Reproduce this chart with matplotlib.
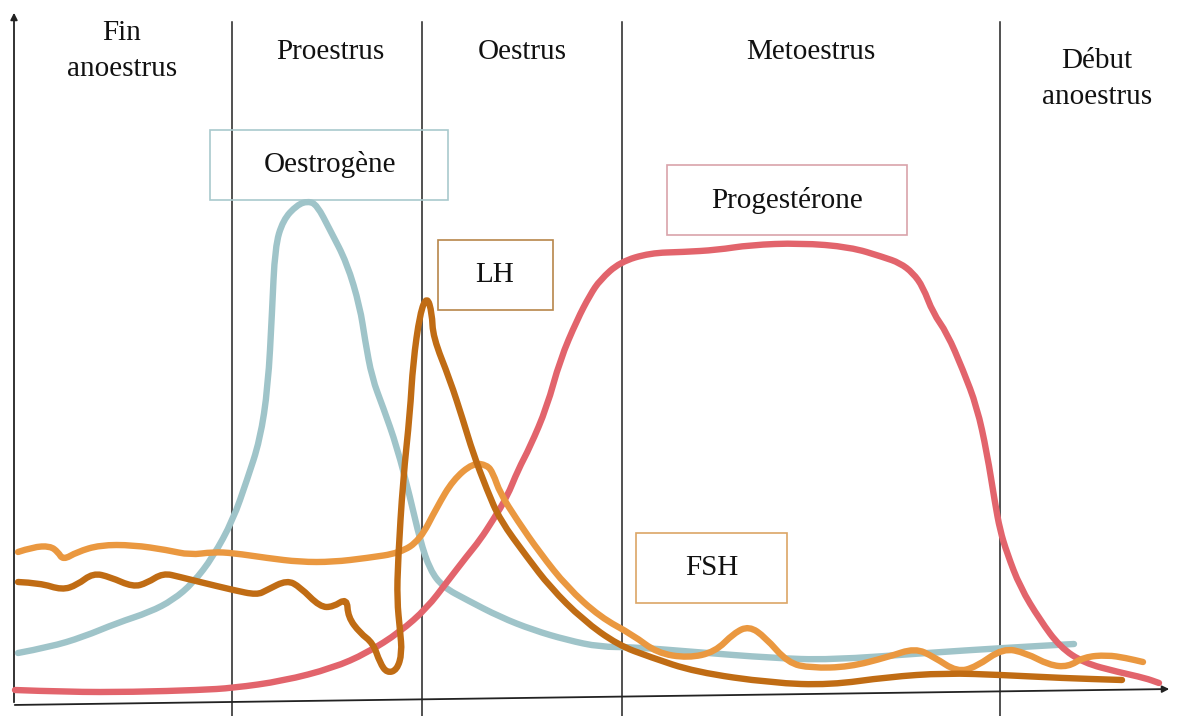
import matplotlib
matplotlib.use("Agg")
import matplotlib.pyplot as plt
from matplotlib.path import Path
from matplotlib.patches import PathPatch

# phases of the cycle (label, x centre, y centre)
phase_labels = ["Fin\nanoestrus", "Proestrus", "Oestrus", "Metoestrus", "Début\nanoestrus"]
phase_x = [122, 330, 522, 811, 1097]
phase_y = [51, 52, 52, 52, 79]
dividers = [232, 422, 622, 1000]

# hormone curves (pixel units, y down)
oestro_x = [18, 50, 83, 117, 150, 173, 193, 213, 233, 247, 260, 268, 272, 275, 283, 297, 308,
            317, 330, 347, 360, 365, 372, 383, 397, 410, 420, 430, 443, 467, 500, 533, 567,
            600, 633, 695, 772, 830, 926, 1003, 1074]
oestro_y = [653, 647, 637, 623, 612, 600, 583, 557, 520, 480, 440, 387, 313, 247, 220, 205, 201,
            205, 230, 263, 307, 340, 378, 407, 447, 497, 540, 570, 587, 600, 617, 630, 640,
            647, 647, 652, 658, 660, 653, 648, 644]

lh_x = [18, 40, 62, 77, 93, 110, 133, 147, 163, 180, 200, 233, 257, 267, 287, 300, 320, 333,
        347, 348, 360, 373, 380, 387, 397, 402, 400, 397, 398, 403, 410, 413, 420, 427, 432,
        433, 450, 463, 473, 487, 500, 527, 550, 583, 618, 650, 695, 772, 830, 888, 945, 1003,
        1061, 1122]
lh_y = [582, 583, 590, 585, 573, 577, 587, 583, 573, 577, 582, 590, 595, 590, 580, 587, 607, 607,
        598, 617, 633, 643, 663, 673, 670, 653, 630, 600, 560, 480, 413, 363, 313, 296, 313,
        337, 380, 420, 453, 490, 520, 557, 587, 620, 645, 657, 672, 683, 685, 677, 673, 675,
        678, 680]

fsh_x = [18, 33, 50, 58, 63, 77, 100, 133, 167, 190, 213, 233, 267, 300, 333, 367, 400, 420,
         437, 453, 473, 487, 493, 500, 517, 540, 567, 600, 633, 657, 688, 715, 734, 749, 765,
         788, 811, 849, 888, 915, 934, 957, 976, 1003, 1026, 1049, 1068, 1084, 1107, 1126, 1143]
fsh_y = [552, 547, 546, 552, 560, 552, 545, 545, 550, 555, 552, 553, 558, 562, 562, 558, 553, 540,
         507, 480, 463, 465, 473, 493, 520, 553, 587, 617, 635, 653, 658, 652, 633, 626, 637,
         663, 668, 667, 657, 648, 657, 672, 667, 648, 653, 665, 667, 657, 655, 658, 662]

prog_x = [15, 67, 133, 200, 233, 283, 333, 367, 400, 427, 447, 467, 480, 493, 507, 518, 530, 547,
          560, 577, 590, 600, 620, 650, 683, 717, 750, 800, 850, 883, 900, 913, 923, 933, 947,
          963, 977, 987, 995, 1000, 1007, 1020, 1040, 1060, 1084, 1118, 1145, 1159]
prog_y = [690, 692, 692, 690, 688, 681, 668, 653, 632, 608, 582, 556, 540, 520, 497, 470, 447, 407,
          360, 320, 295, 280, 262, 253, 252, 250, 245, 243, 247, 257, 263, 273, 287, 313, 333,
          370, 407, 453, 503, 530, 553, 587, 620, 647, 663, 672, 678, 683]

# labels in boxes: text, centre, box (x0, y0, x1, y1)
box_text = ["Oestrogène", "Progestérone", "LH", "FSH"]
box_xy = [(330, 165), (787, 200), (495, 275), (712, 568)]
box_rect = [(210, 130, 448, 200), (667, 165, 907, 235), (438, 240, 553, 310), (636, 533, 787, 603)]
box_edge = ["#a9c9cd", "#d9a3aa", "#b8864a", "#dca566"]

c_oestro = "#9fc4c9"
c_lh = "#c06c14"
c_fsh = "#ea9840"
c_prog = "#e2646c"


def smooth_curve(ax, xs, ys, color):
  # quadratic bezier through the midpoints, the read points act as control points
  verts = [(xs[0], ys[0])]
  codes = [Path.MOVETO]
  for i in range(1, len(xs) - 1):
    mid = ((xs[i] + xs[i + 1]) / 2, (ys[i] + ys[i + 1]) / 2)
    verts += [(xs[i], ys[i]), mid]
    codes += [Path.CURVE3, Path.CURVE3]
  verts.append((xs[-1], ys[-1]))
  codes.append(Path.LINETO)
  patch = PathPatch(Path(verts, codes), fill=False, edgecolor=color, lw=4.6,
                    capstyle="round", joinstyle="round", zorder=3)
  ax.add_patch(patch)


fig = plt.figure(figsize=(11.83, 7.16), dpi=100)
ax = fig.add_axes([0, 0, 1, 1])
ax.set_xlim(0, 1183)
ax.set_ylim(716, 0)
ax.axis("off")

serif = "Liberation Serif"

# dividers between phases
for x in dividers:
  ax.plot([x, x], [22, 716], color="#222222", lw=1.1, zorder=1)

# axes arrows
ax.annotate("", xy=(14, 10), xytext=(14, 705),
            arrowprops=dict(arrowstyle="-|>", color="#222222", lw=1.3, mutation_scale=10))
ax.annotate("", xy=(1172, 689), xytext=(12, 705),
            arrowprops=dict(arrowstyle="-|>", color="#222222", lw=1.3, mutation_scale=10))

for lab, x, y in zip(phase_labels, phase_x, phase_y):
  ax.text(x, y, lab, ha="center", va="center", fontsize=21, family=serif,
          color="#111111", linespacing=1.5)

for (x0, y0, x1, y1), ec in zip(box_rect, box_edge):
  ax.add_patch(plt.Rectangle((x0, y0), x1 - x0, y1 - y0, fill=False, edgecolor=ec,
                             lw=1.2, zorder=2))
for t, (x, y) in zip(box_text, box_xy):
  ax.text(x, y, t, ha="center", va="center", fontsize=21, family=serif, color="#111111")

smooth_curve(ax, oestro_x, oestro_y, c_oestro)
smooth_curve(ax, prog_x, prog_y, c_prog)
smooth_curve(ax, fsh_x, fsh_y, c_fsh)
smooth_curve(ax, lh_x, lh_y, c_lh)

fig.savefig("out.png", dpi=100)
